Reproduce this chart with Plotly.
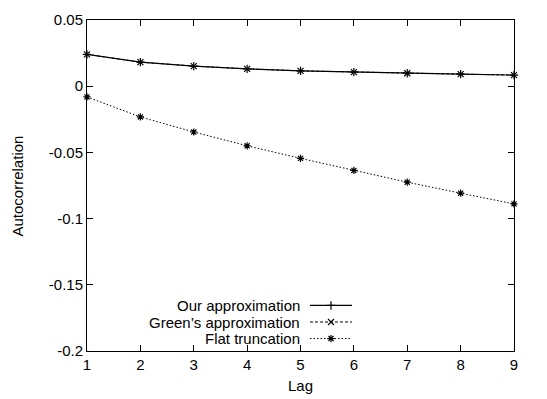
import plotly.graph_objects as go

lags = [1, 2, 3, 4, 5, 6, 7, 8, 9]
our_approx = [0.0240, 0.0182, 0.0152, 0.0131, 0.0116, 0.0106, 0.0098, 0.0091, 0.0084]
green_approx = [0.0240, 0.0182, 0.0152, 0.0131, 0.0116, 0.0106, 0.0098, 0.0091, 0.0084]
flat_trunc = [-0.0081, -0.0232, -0.0346, -0.0450, -0.0545, -0.0636, -0.0725, -0.0808, -0.0889]
y_ticks = [0.05, 0, -0.05, -0.1, -0.15, -0.2]
y_tick_labels = ["0.05", "0", "-0.05", "-0.1", "-0.15", "-0.2"]
names = ["Our approximation", "Green\u2019s approximation", "Flat truncation"]
x_title = "Lag"
y_title = "Autocorrelation"

FONT = "Liberation Sans, Arial, Helvetica, sans-serif"
FS = 15
series = [
    (our_approx, "solid", "cross-thin-open"),
    (green_approx, "3px,2px", "x-thin-open"),
    (flat_trunc, "1.5px,2px", "asterisk-open"),
]

fig = go.Figure()
for (vals, dash, sym), name in zip(series, names):
    fig.add_trace(go.Scatter(
        x=lags, y=vals, mode="lines+markers", name=name,
        line=dict(color="black", width=1.2 if dash == "solid" else 1, dash=dash),
        marker=dict(symbol=sym, size=6, color="black", line=dict(color="black", width=1.2)),
        showlegend=False, cliponaxis=False,
    ))

# custom gnuplot-style legend (text right-aligned, sample on the right)
leg_y = [0.86, 0.5, 0.14]
for (vals, dash, sym), name, ly in zip(series, names, leg_y):
    fig.add_trace(go.Scatter(
        x=[0.0, 1.0], y=[ly, ly], mode="lines", xaxis="x2", yaxis="y2",
        line=dict(color="black", width=1.2 if dash == "solid" else 1, dash=dash),
        showlegend=False, hoverinfo="skip",
    ))
    fig.add_trace(go.Scatter(
        x=[0.5], y=[ly], mode="markers", xaxis="x2", yaxis="y2",
        marker=dict(symbol=sym, size=6, color="black", line=dict(color="black", width=1.2)),
        showlegend=False, hoverinfo="skip",
    ))
    fig.add_annotation(
        x=0, y=ly, xref="x2", yref="y2", text=name, showarrow=False,
        xanchor="right", yanchor="middle", xshift=-8,
        font=dict(family=FONT, size=FS, color="black"),
    )

# axis titles
fig.add_annotation(x=0.5, y=-0.103, xref="paper", yref="paper", text=x_title,
                   showarrow=False, xanchor="center", yanchor="middle",
                   font=dict(family=FONT, size=FS, color="black"))
fig.add_annotation(x=-0.1616, y=0.5, xref="paper", yref="paper", text=y_title,
                   showarrow=False, xanchor="center", yanchor="middle", textangle=-90,
                   font=dict(family=FONT, size=FS, color="black"))

fig.update_layout(
    width=547, height=399,
    margin=dict(l=87, r=33, t=20, b=48),
    paper_bgcolor="white", plot_bgcolor="white",
    font=dict(family=FONT, size=FS, color="black"),
    xaxis=dict(
        range=[1, 9], tickvals=lags, ticktext=[str(v) for v in lags],
        ticks="inside", ticklen=6, tickcolor="black", mirror="ticks",
        showline=True, linecolor="black", linewidth=1, showgrid=False, zeroline=False,
        automargin=False,
    ),
    yaxis=dict(
        range=[-0.2, 0.05], tickvals=y_ticks, ticktext=y_tick_labels,
        ticks="inside", ticklen=6, tickcolor="black", mirror="ticks",
        showline=True, linecolor="black", linewidth=1, showgrid=False, zeroline=False,
        automargin=False,
    ),
    xaxis2=dict(domain=[(310 - 87) / 427, (352 - 87) / 427], range=[0, 1], visible=False,
                anchor="y2"),
    yaxis2=dict(domain=[(351 - 345) / 331, (351 - 299) / 331], range=[0, 1], visible=False,
                anchor="x2"),
)

fig.write_html("out.html")
